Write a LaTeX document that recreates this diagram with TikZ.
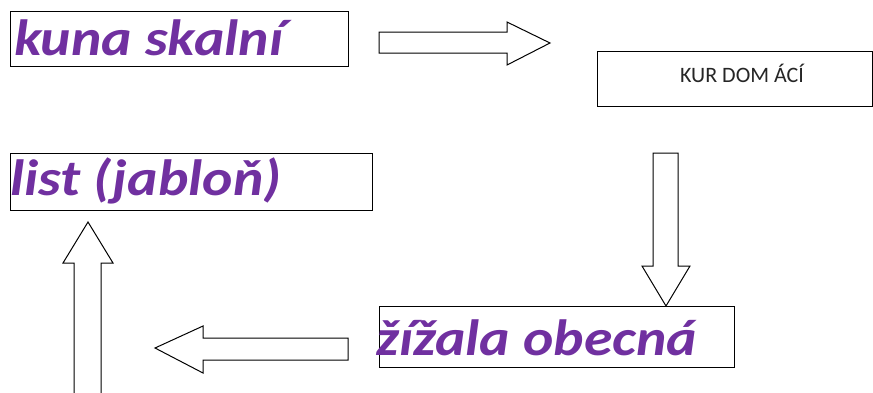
\documentclass[tikz,border=0pt]{standalone}
\usepackage{fontspec}
\setmainfont{Carlito}
\definecolor{labelpurple}{HTML}{7030A0}
\newcommand{\widetext}[1]{\scalebox{1.13}[1]{#1}}
\tikzset{
  box/.style={draw=black, line width=1.3pt, fill=white, inner sep=0pt, anchor=north west},
  biglabel/.style={text=labelpurple, font=\fontsize{51}{56}\selectfont\bfseries\itshape, inner sep=0pt, anchor=base west},
  smalllabel/.style={text=black!85, font=\fontsize{22}{25}\selectfont, inner sep=0pt},
  blockarrow/.style={draw=black, line width=1pt, fill=white, line join=miter}
}
\begin{document}
\begin{tikzpicture}[x=1pt,y=-1pt]
\useasboundingbox[fill=white] (0,0) rectangle (873,392);
% boxes
\node[box, minimum width=338pt, minimum height=55pt] (kuna) at (10,11) {};
\node[biglabel] (kunatext) at (14,55) {\widetext{kuna skalní}};
\node[box, minimum width=275pt, minimum height=55pt] (kur) at (597,51) {};
\node[smalllabel] (kurtext) at (742,73) {KUR DOM ÁCÍ};
\node[box, minimum width=362pt, minimum height=57pt] (list) at (10,153) {};
\node[biglabel] (listtext) at (10,195) {\widetext{list (jabloň)}};
\node[box, minimum width=355pt, minimum height=61pt] (zizala) at (379,306) {};
\node[biglabel] (zizalatext) at (376,355) {\widetext{žížala obecná}};
% block arrows
\draw[blockarrow] (379,32) -- (507,32) -- (507,22) -- (550,43) -- (507,65) -- (507,53) -- (379,53) -- cycle;
\draw[blockarrow] (653,153) -- (678,153) -- (678,266) -- (690,266) -- (666,306) -- (642,266) -- (653,266) -- cycle;
\draw[blockarrow] (348,338) -- (203,338) -- (203,326) -- (155,348) -- (203,373) -- (203,360) -- (348,360) -- cycle;
\fill[white] (74,392) -- (74,263) -- (63,263) -- (88,222) -- (113,263) -- (101,263) -- (101,392) -- cycle;
\draw[blockarrow, fill=none] (74,393) -- (74,263) -- (63,263) -- (88,222) -- (113,263) -- (101,263) -- (101,393);
\end{tikzpicture}
\end{document}
